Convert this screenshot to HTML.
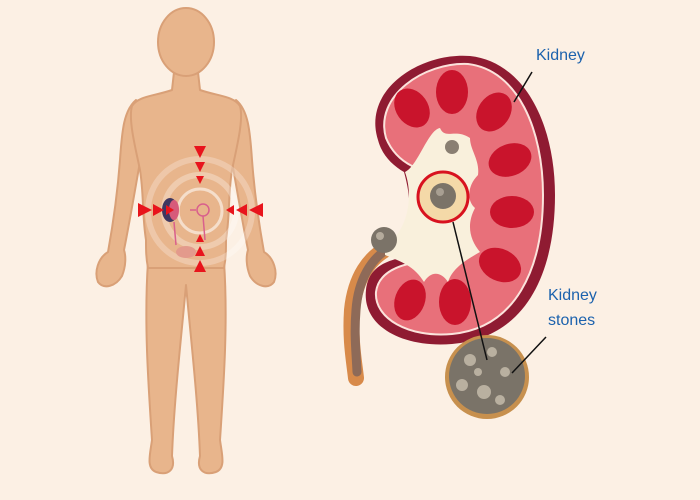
<!DOCTYPE html>
<html><head><meta charset="utf-8"><style>
html,body{margin:0;padding:0;background:#fcf0e4;}
svg{display:block}
text{font-family:"Liberation Sans",sans-serif;fill:#1c62ad;font-size:16px}
</style></head><body>
<svg width="700" height="500" viewBox="0 0 700 500">
<rect width="700" height="500" fill="#fcf0e4"/>
<!-- body -->
<g fill="#e8b58c" stroke="#d9a077" stroke-width="2" stroke-linejoin="round">
<path d="M136,100 C124,110 122,130 120,160 C117,200 112,230 108,252 C98,258 94,272 98,282 C104,290 116,286 122,276 C126,266 126,256 124,250 C130,220 136,185 142,150 Z"/>
<path d="M236,100 C248,110 250,130 252,160 C255,200 260,230 264,252 C274,258 278,272 274,282 C268,290 256,286 250,276 C246,266 246,256 248,250 C242,220 236,185 230,150 Z"/>
<path d="M148,262 C144,320 148,380 152,440 C150,455 146,468 156,472 C168,476 176,470 172,456 C174,400 182,330 186,285 C190,330 198,400 200,456 C196,470 204,476 216,472 C226,468 222,455 220,440 C224,380 228,320 224,262 Z"/>
<path d="M174,72 L172,90 C155,96 138,96 132,106 C128,120 136,150 140,170 C144,195 142,215 146,240 C146,250 146,258 148,268 L224,268 C226,258 226,250 226,240 C230,215 228,195 232,170 C236,150 244,120 240,106 C234,96 217,96 200,90 L198,72 Z"/>
<ellipse cx="186" cy="42" rx="28" ry="34"/>
</g>
<g fill="none" stroke="#fff" stroke-opacity="0.55">
<circle cx="200" cy="211" r="22" stroke-width="3"/>
<circle cx="200" cy="211" r="36" stroke-width="6" stroke-opacity="0.3"/>
<circle cx="200" cy="211" r="52" stroke-width="6" stroke-opacity="0.25"/>
</g>
<ellipse cx="170" cy="210" rx="8" ry="12" fill="#3f3760"/>
<ellipse cx="174" cy="210" rx="5" ry="10" fill="#d75a7a"/>
<g stroke="#d9608c" stroke-width="1.5" fill="none"><circle cx="203" cy="210" r="6"/><path d="M196,210 H190 M203,216 L205,240"/><path d="M174,222 L176,245"/></g>
<ellipse cx="186" cy="252" rx="10" ry="6" fill="#e39a8c"/>
<g fill="#e8141c">
<polygon points="194,146 206,146 200,158"/><polygon points="195,162 205,162 200,172"/><polygon points="196,176 204,176 200,184"/>
<polygon points="194,272 206,272 200,260"/><polygon points="195,256 205,256 200,246"/><polygon points="196,242 204,242 200,234"/>
<polygon points="138,203 138,217 152,210"/><polygon points="153,204 153,216 164,210"/><polygon points="166,205 166,215 174,210"/>
<polygon points="263,203 263,217 249,210"/><polygon points="247,204 247,216 236,210"/><polygon points="234,205 234,215 226,210"/>
</g>
<!-- ureter -->
<path d="M395,245 C368,255 355,280 352,310 C350,340 354,360 356,378" fill="none" stroke="#d88a4a" stroke-width="16" stroke-linecap="round"/>
<path d="M395,245 C370,256 358,282 356,310 C354,335 356,350 357,372" fill="none" stroke="#8e6a58" stroke-width="9" stroke-linecap="round"/>
<!-- kidney -->
<path d="M378,140 C362,90 420,52 470,56 C525,62 555,125 555,195 C555,275 525,338 452,344 C400,348 362,325 366,290 C368,270 382,262 400,258 C412,228 412,200 404,172 C392,165 382,155 378,140 Z" fill="#8f1b32"/>
<path d="M386,138 C374,96 424,62 468,64 C518,70 543,130 543,195 C543,270 515,328 452,334 C408,338 374,318 376,292 C378,276 392,268 408,264 C422,230 422,198 412,166 C400,160 391,150 386,138 Z" fill="#e8707a" stroke="#fbe3dc" stroke-width="2"/>
<g fill="#c9142c">
<ellipse cx="412" cy="108" rx="16" ry="21" transform="rotate(-35 412 108)"/>
<ellipse cx="452" cy="92" rx="16" ry="22"/>
<ellipse cx="494" cy="112" rx="16" ry="21" transform="rotate(35 494 112)"/>
<ellipse cx="510" cy="160" rx="16" ry="22" transform="rotate(70 510 160)"/>
<ellipse cx="512" cy="212" rx="16" ry="22" transform="rotate(90 512 212)"/>
<ellipse cx="500" cy="265" rx="16" ry="22" transform="rotate(115 500 265)"/>
<ellipse cx="455" cy="302" rx="16" ry="23"/>
<ellipse cx="410" cy="300" rx="15" ry="21" transform="rotate(20 410 300)"/>
</g>
<path d="M385,245 C405,235 415,200 405,172 C418,166 428,130 440,128 C445,140 455,128 470,138 C470,150 480,160 478,175 C468,185 466,200 475,208 C466,225 470,240 480,252 C462,262 452,270 448,282 C440,270 430,272 424,282 C414,266 402,262 385,255 Z" fill="#f9f0dc"/>
<!-- stones -->
<circle cx="452" cy="147" r="7" fill="#8a7f72"/>
<circle cx="384" cy="240" r="13" fill="#7b7368"/>
<circle cx="380" cy="236" r="4" fill="#b5ab9c"/>
<circle cx="443" cy="197" r="24" fill="#f4d9a8"/>
<circle cx="443" cy="196" r="13" fill="#7b7368"/>
<circle cx="440" cy="192" r="4" fill="#a89f92"/>
<circle cx="443" cy="197" r="25" fill="none" stroke="#d8121f" stroke-width="3"/>
<circle cx="487" cy="377" r="42" fill="#c7904e"/>
<circle cx="487" cy="376" r="38" fill="#7a7368"/>
<g fill="#b9b0a0"><circle cx="470" cy="360" r="6"/><circle cx="492" cy="352" r="5"/><circle cx="462" cy="385" r="6"/><circle cx="484" cy="392" r="7"/><circle cx="505" cy="372" r="5"/><circle cx="478" cy="372" r="4"/><circle cx="500" cy="400" r="5"/></g>
<!-- leader lines -->
<g stroke="#111" stroke-width="1.5">
<line x1="532" y1="72" x2="514" y2="102"/>
<line x1="453" y1="222" x2="487" y2="360"/>
<line x1="546" y1="337" x2="512" y2="373"/>
</g>
<text x="536" y="60">Kidney</text>
<text x="548" y="300">Kidney</text>
<text x="548" y="325">stones</text>
</svg>
</body></html>
